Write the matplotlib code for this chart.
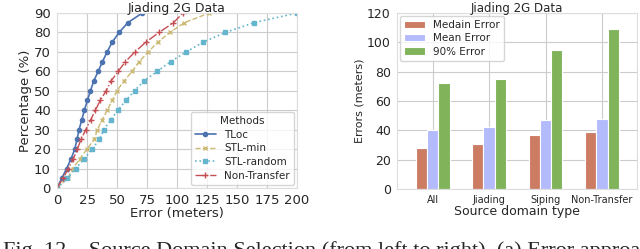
import numpy as np
import matplotlib.pyplot as plt
import seaborn as sns

sns.set_style("whitegrid")
plt.rcParams['font.family'] = ['DejaVu Sans']

# CDF data: percentage levels and error (meters) reached by each method
pct = [0, 5, 10, 15, 20, 25, 30, 35, 40, 45, 50, 55, 60, 65, 70, 75, 80, 85, 90]
tloc = [0, 4, 8, 11.7, 14.8, 16.7, 18.4, 20.6, 22.8, 25.3, 27.9, 30.6, 34.3, 37.9, 41.8, 46, 51.8, 59, 71]
stl_min = [0, 9, 13, 19, 25, 31, 33.7, 37.6, 41.8, 46, 50, 55.7, 62.7, 68.5, 76, 84, 94, 106, 127]
stl_random = [0, 8.6, 15.6, 22.6, 29.2, 35.4, 39, 44.8, 50.7, 57.4, 64.6, 72.4, 83.6, 94.7, 107.8, 121.7, 140.4, 164, 200]
non_transfer = [0, 5, 9.5, 13.6, 17, 20, 24, 28, 32, 36, 41, 45, 51, 57, 65, 74, 85, 97, 105]

# bar chart data
domains = ['All', 'Jiading', 'Siping', 'Non-Transfer']
median_err = [28, 31, 37, 39]
mean_err = [40, 42, 47, 48]
err90 = [72, 75, 95, 109]

fig = plt.figure(figsize=(6.4, 2.49), dpi=100)

#left: CDF curves
ax1 = fig.add_axes([57/640, 61/249, 240/640, 175/249])
ax1.plot(tloc, pct, '-', marker='o', color='#4c72b0', ms=3, lw=1.2, label='TLoc')
ax1.plot(stl_min, pct, '--', marker='x', color='#ccb974', ms=3.5, lw=1.0, label='STL-min')
ax1.plot(stl_random, pct, ':', marker='s', color='#64b5cd', ms=3.5, lw=1.2, label='STL-random')
ax1.plot(non_transfer, pct, '-.', marker='+', color='#c44e52', ms=4.5, lw=1.0, label='Non-Transfer')
ax1.set_xlim(0, 200)
ax1.set_ylim(0, 90)
ax1.set_xticks(np.arange(0, 201, 25))
ax1.set_yticks(np.arange(0, 91, 10))
ax1.tick_params(labelsize=9.5, pad=1)
ax1.set_xlabel('Error (meters)', fontsize=9.5, labelpad=0)
ax1.set_ylabel('Percentage (%)', fontsize=9.5, labelpad=1)
ax1.set_title('Jiading 2G Data', fontsize=9, pad=1)
leg = ax1.legend(title='Methods', loc='lower right', fontsize=7.5, title_fontsize=7.5,
                 borderaxespad=0.3, handlelength=2.0, labelspacing=0.35)

#right: error bars
ax2 = fig.add_axes([397/640, 60/249, 240/640, 176/249])
x = np.arange(len(domains))
w = 0.2
ax2.bar(x - w, median_err, w, color='#cd7c64', edgecolor='white', lw=0.8, label='Medain Error')
ax2.bar(x, mean_err, w, color='#b3bbfc', edgecolor='white', lw=0.8, label='Mean Error')
ax2.bar(x + w, err90, w, color='#80b35a', edgecolor='white', lw=0.8, label='90% Error')
ax2.set_xticks(x)
ax2.set_xticklabels(domains, fontsize=7)
ax2.set_xlim(-0.63, 3.62)
ax2.set_ylim(0, 120)
ax2.set_yticks(np.arange(0, 121, 20))
ax2.tick_params(axis='y', labelsize=9, pad=1)
ax2.tick_params(axis='x', pad=1)
ax2.set_axisbelow(True)
ax2.set_xlabel('Source domain type', fontsize=9, labelpad=0)
ax2.set_ylabel('Errors (meters)', fontsize=8, labelpad=2)
ax2.set_title('Jiading 2G Data', fontsize=8.5, pad=1)
ax2.legend(loc='upper left', fontsize=7.5, borderaxespad=0.3, labelspacing=0.3)

for ax in (ax1, ax2):
    for s in ax.spines.values():
        s.set_color('#dddddd')

# caption, cut off at the bottom like the page
fig.text(0.005, -0.05, 'Fig. 12.   Source Domain Selection (from left to right). (a) Error approaches',
         fontsize=16, family='Liberation Serif', va='bottom', ha='left')

fig.savefig('out.png', dpi=100)
